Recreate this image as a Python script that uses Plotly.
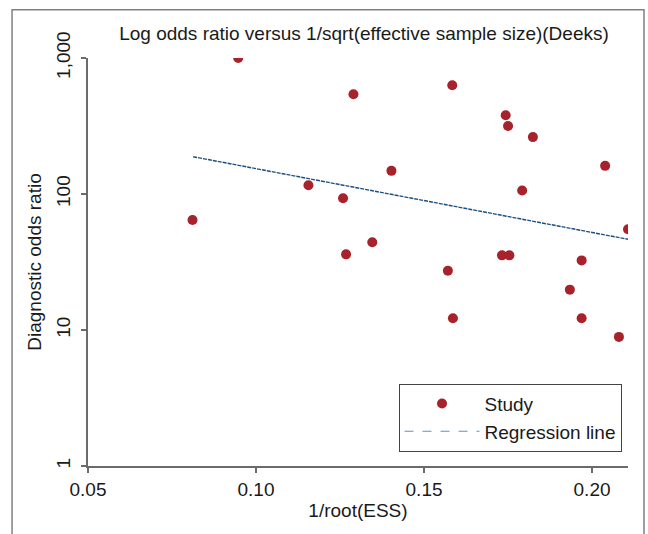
import plotly.graph_objects as go

# Data
inv_root_ess = [0.0947, 0.0811, 0.1156, 0.1259, 0.1268, 0.1290, 0.1346, 0.1403,
                0.1571, 0.1586, 0.1584, 0.1743, 0.1750, 0.1732, 0.1754, 0.1824,
                0.1792, 0.1934, 0.1969, 0.1969, 0.2039, 0.2080, 0.2107]
diag_odds_ratio = [1000, 64.4, 116, 93, 36, 541, 44.2, 148,
                   27.3, 12.2, 630, 379, 316, 35.4, 35.4, 262,
                   106, 19.8, 12.2, 32.5, 161, 8.9, 55.0]

reg_x = [0.0813, 0.2108]
reg_y = [188, 46.4]

y_tickvals = [1, 10, 100, 1000]
y_ticktext = ["1", "10", "100", "1,000"]
x_tickvals = [0.05, 0.10, 0.15, 0.20]
x_ticktext = ["0.05", "0.10", "0.15", "0.20"]

W, H = 648, 534
L, R, T, B = 87.5, 20, 58, 68
pw, ph = W - L - R, H - T - B

def px_x(p):
    return (p - L) / pw

def px_y(p):
    return (H - B - p) / ph

FONT = "Liberation Sans, Arial, sans-serif"
AX = "#6b6b6b"
FS = 19

fig = go.Figure()
fig.add_trace(go.Scatter(
    x=reg_x, y=reg_y, mode="lines",
    line=dict(color="#1d4f80", width=1.4, dash="4px,1px"),
    showlegend=False, hoverinfo="skip"))
fig.add_trace(go.Scatter(
    x=inv_root_ess, y=diag_odds_ratio, mode="markers", name="Study",
    marker=dict(color="#a8222b", size=10, line=dict(width=0))))
fig.add_trace(go.Scatter(
    x=[None], y=[None], mode="lines", name="Regression line",
    line=dict(color="#5a94c0", width=1.2, dash="dash")))

fig.update_layout(
    width=W, height=H,
    margin=dict(l=L, r=R, t=T, b=B, autoexpand=False),
    paper_bgcolor="white", plot_bgcolor="white",
    font=dict(family=FONT, size=FS, color="#1a1a1a"),
    title=dict(text="Log odds ratio versus 1/sqrt(effective sample size)(Deeks)",
               x=364 / W, xanchor="center", y=1 - 33 / H, yanchor="middle",
               font=dict(size=FS, color="#1a1a1a")),
    xaxis=dict(range=[0.05, 0.2107], tickvals=x_tickvals, ticktext=x_ticktext,
               showgrid=False, zeroline=False, showline=True, linecolor=AX, linewidth=1.5,
               ticks="outside", ticklen=5, tickcolor=AX, tickwidth=1.5,
               tickfont=dict(size=FS, color="#1a1a1a"),
               title=dict(text="1/root(ESS)", standoff=4, font=dict(size=FS))),
    yaxis=dict(type="log", range=[0, 3], tickvals=y_tickvals, ticktext=y_ticktext,
               showgrid=False, zeroline=False, showline=True, linecolor=AX, linewidth=1.5,
               ticks="outside", ticklen=5, tickcolor=AX, tickwidth=1.5, tickangle=-90,
               ticklabelstandoff=4,
               tickfont=dict(size=FS, color="#1a1a1a"),
               title=dict(text="Diagnostic odds ratio", standoff=6, font=dict(size=FS))),
    legend=dict(x=px_x(398.3), y=px_y(451.7), xanchor="left", yanchor="bottom",
                bgcolor="white", bordercolor="#444444", borderwidth=1,
                font=dict(size=FS, color="#1a1a1a"), itemwidth=75,
                tracegroupgap=0),
    shapes=[dict(type="rect", xref="paper", yref="paper",
                 x0=px_x(11.5), x1=px_x(644), y0=px_y(545), y1=px_y(9.7),
                 line=dict(color="#808080", width=1.5), layer="below")],
)

fig.write_html("out.html")
